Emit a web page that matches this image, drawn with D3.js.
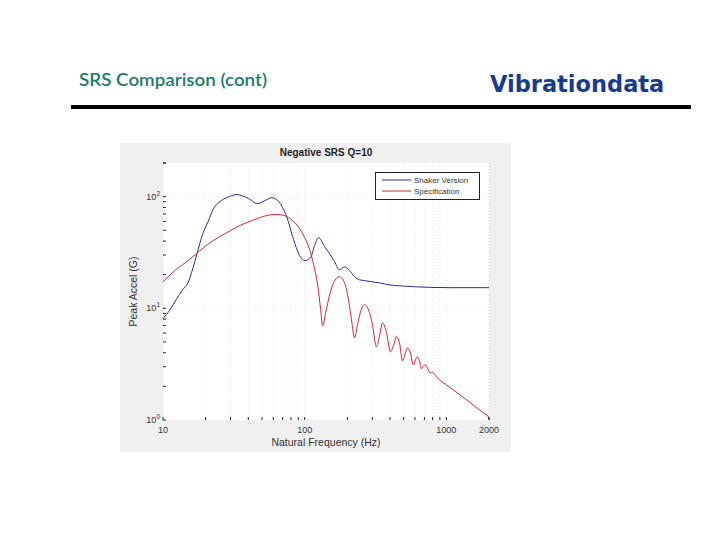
<!DOCTYPE html>
<html><head><meta charset="utf-8">
<script src="https://cdn.jsdelivr.net/npm/d3@7/dist/d3.min.js"></script>
<style>body{margin:0;background:#fff}svg{display:block}</style>
</head><body>
<svg id="c" width="720" height="540"></svg>
<script>
const shakerFreq = [10,11.2,12.35,13.8,15.0,16.3,17.3,19.1,20.8,22.5,25.2,28.2,33.2,39.1,46.7,52.3,58.6,65.6,71.1,74.7,82.3,92.2,100,110,117.5,125.5,138.3,150,162.6,176.2,191.2,207.5,225,243.9,264.6,296.5,337.5,396.8,467,595,759,1050,2000];
const shakerAccel = [8.05,9.69,11.9,14.7,16.9,23.1,30.2,46.6,59.7,76.4,90.1,97.9,104.2,97.9,86.5,92.1,97.9,90.1,76.4,66.2,43.8,29.6,26.7,28.4,36.4,42.9,35.6,30.8,26.1,22.1,23.5,21.7,19.2,18.0,17.7,17.3,16.9,16.2,15.9,15.6,15.4,15.3,15.3];
const specFreq = [10,12.1,15.0,18.2,22.5,28.2,34.8,42.3,50.6,59.6,66.1,74.7,83.8,92.2,100,108.4,115.6,123.5,129.7,133.9,140.6,150,160,176.2,191.2,204,214,225,236,247.7,264.6,282.5,301,321,337.5,354,378,403,423,444.6,467,490,514,531,557,586,605,625,646,667,689,712,735,771,796,851,1050,1452,2000];
const specAccel = [17.3,21.7,26.7,32.8,40.3,47.5,55.0,60.9,66.2,69.0,69.0,66.2,59.7,51.6,42.9,33.5,24.6,16.2,9.7,6.97,9.1,13.2,16.9,19.2,16.9,11.9,7.88,5.44,7.11,9.3,10.75,9.7,7.11,4.52,5.67,7.41,6.03,4.07,4.61,5.55,4.91,3.38,3.99,4.42,3.99,3.11,3.45,3.67,3.38,2.87,3.05,3.11,2.93,2.64,2.69,2.43,1.98,1.45,1.06];
const seriesNames = ["Shaker Version","Specification"];
const xTickLabels = [10,100,1000,2000];
const yTickLabels = [1,10,100];

const svg = d3.select("#c");
// header
svg.append("text").attr("x",79).attr("y",86).attr("font-family","Lato, 'Open Sans', sans-serif")
  .attr("font-weight",600).attr("font-size",18).attr("fill","#1d7a6c").attr("textLength",188).attr("lengthAdjust","spacingAndGlyphs").text("SRS Comparison (cont)");
svg.append("text").attr("x",490).attr("y",92).attr("font-family","'DejaVu Sans', Verdana, sans-serif")
  .attr("font-weight","bold").attr("font-size",22.5).attr("fill","#1a3a8a").text("Vibrationdata");
svg.append("rect").attr("x",71).attr("y",105).attr("width",620).attr("height",4).attr("fill","#000");

// figure panel
svg.append("rect").attr("x",120).attr("y",143).attr("width",391).attr("height",309).attr("fill","#f0f0f0");

const L=163,R=489,T=163,B=420;
const x = d3.scaleLog().domain([10,2000]).range([L,R]);
const y = d3.scaleLog().domain([1,200]).range([B,T]);
svg.append("rect").attr("x",L).attr("y",T).attr("width",R-L).attr("height",B-T).attr("fill","#fff");

const xMinor = [];
for (let d=10; d<=1000; d*=10) for (let k=1;k<10;k++){ const v=k*d; if(v<=2000) xMinor.push(v);} 
xMinor.push(2000);
const yMinor = [];
for (let d=1; d<=100; d*=10) for (let k=1;k<10;k++){ const v=k*d; if(v<=200) yMinor.push(v);} 
yMinor.push(200);

// grid
const g = svg.append("g");
g.selectAll(".vg").data(xMinor).join("line").attr("x1",d=>x(d)).attr("x2",d=>x(d)).attr("y1",T).attr("y2",B)
  .attr("stroke","#dcdcdc").attr("stroke-width",0.7).attr("stroke-dasharray","1,2");
g.selectAll(".hg").data([10,100]).join("line").attr("x1",L).attr("x2",R).attr("y1",d=>y(d)).attr("y2",d=>y(d))
  .attr("stroke","#dcdcdc").attr("stroke-width",0.7).attr("stroke-dasharray","1,2");

// ticks (inward)
g.selectAll(".xt").data(xMinor).join("line").attr("x1",d=>x(d)).attr("x2",d=>x(d)).attr("y1",B).attr("y2",B-3)
  .attr("stroke","#222").attr("stroke-width",1);
g.selectAll(".yt").data(yMinor).join("line").attr("x1",L).attr("x2",L+3).attr("y1",d=>y(d)).attr("y2",d=>y(d))
  .attr("stroke","#222").attr("stroke-width",1);

// tick labels
const tf = "Arial, 'Liberation Sans', sans-serif";
g.selectAll(".xl").data(xTickLabels).join("text").attr("x",d=>x(d)).attr("y",B+13).attr("text-anchor","middle")
  .attr("font-family",tf).attr("font-size",9).attr("fill","#333").text(d=>d);
const yl = g.selectAll(".yl").data(yTickLabels).join("text").attr("x",L-3).attr("y",d=>y(d)+3).attr("text-anchor","end")
  .attr("font-family",tf).attr("font-size",9).attr("fill","#333");
yl.append("tspan").text("10");
yl.append("tspan").attr("dy",-4).attr("font-size",6.5).text(d=>Math.round(Math.log10(d)));

// title & labels
svg.append("text").attr("x",(L+R)/2).attr("y",156).attr("text-anchor","middle").attr("font-family",tf)
  .attr("font-weight","bold").attr("font-size",10).attr("fill","#222").text("Negative SRS Q=10");
svg.append("text").attr("x",(L+R)/2).attr("y",446).attr("text-anchor","middle").attr("font-family",tf)
  .attr("font-size",10.5).attr("fill","#333").text("Natural Frequency (Hz)");
svg.append("text").attr("transform",`translate(137,${(T+B)/2}) rotate(-90)`).attr("text-anchor","middle").attr("font-family",tf)
  .attr("font-size",10.5).attr("fill","#333").text("Peak Accel (G)");

// curves
const line = d3.line().x(d=>x(d[0])).y(d=>y(d[1])).curve(d3.curveMonotoneX);
const colors = ["#2a2a9c","#cc2b33"];
const data = [shakerFreq.map((f,i)=>[f,shakerAccel[i]]), specFreq.map((f,i)=>[f,specAccel[i]])];
svg.append("g").selectAll("path").data(data).join("path").attr("d",line).attr("fill","none")
  .attr("stroke",(d,i)=>colors[i]).attr("stroke-width",1);

// legend
const lg = svg.append("g");
lg.append("rect").attr("x",375.5).attr("y",172.5).attr("width",104).attr("height",27).attr("fill","#fff").attr("stroke","#222").attr("stroke-width",1);
seriesNames.forEach((n,i)=>{
  const yy = 180 + i*11;
  lg.append("line").attr("x1",382).attr("x2",411).attr("y1",yy).attr("y2",yy).attr("stroke",colors[i]).attr("stroke-width",1);
  lg.append("text").attr("x",414).attr("y",yy+3).attr("font-family",tf).attr("font-size",8).attr("fill","#333").text(n);
});
</script>
</body></html>
